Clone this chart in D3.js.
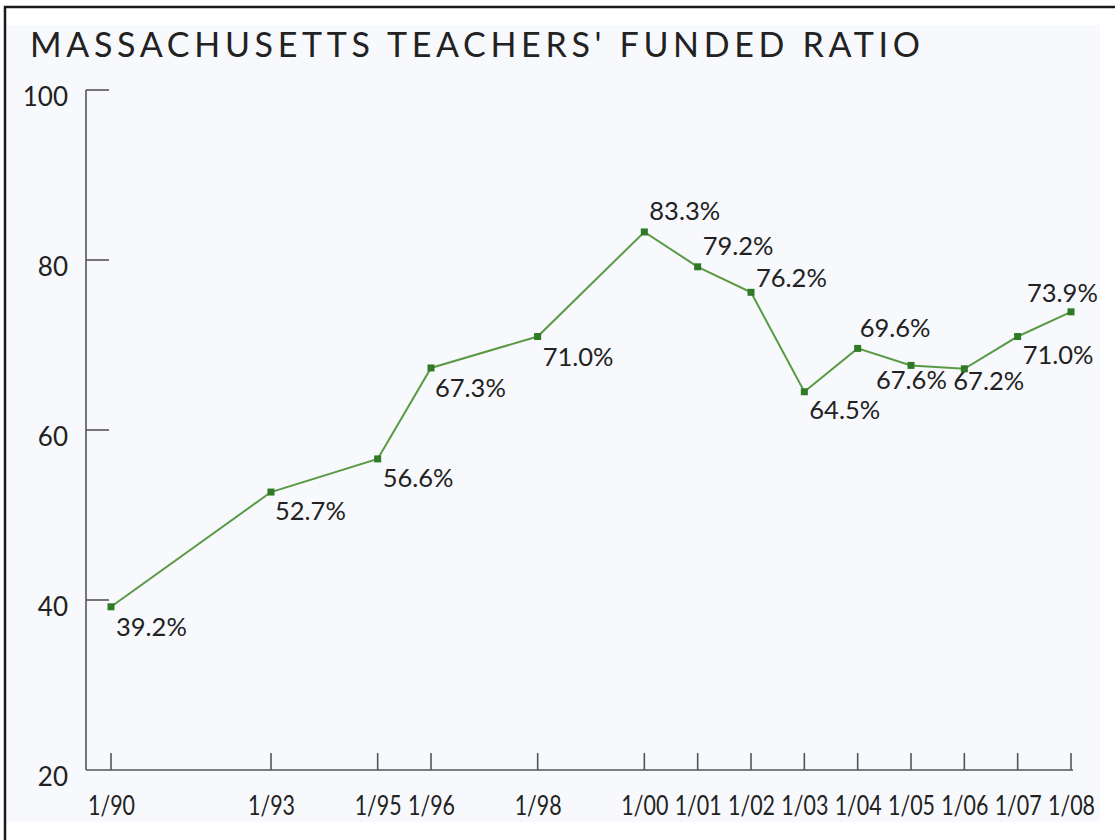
<!DOCTYPE html>
<html>
<head>
<meta charset="utf-8">
<script src="https://cdn.jsdelivr.net/npm/d3@7"></script>
<style>
  body { margin:0; background:#ffffff; }
  svg { display:block; }
  text { font-family: Lato, "Open Sans", sans-serif; fill:#222222; }
</style>
</head>
<body>
<svg></svg>
<script>
// data
var years = [1990, 1993, 1995, 1996, 1998, 2000, 2001, 2002, 2003, 2004, 2005, 2006, 2007, 2008];
var ratios = [39.2, 52.7, 56.6, 67.3, 71.0, 83.3, 79.2, 76.2, 64.5, 69.6, 67.6, 67.2, 71.0, 73.9];
var tickYears = [1990, 1993, 1995, 1996, 1998, 2000, 2001, 2002, 2003, 2004, 2005, 2006, 2007, 2008];
var tickLabels = ["1/90", "1/93", "1/95", "1/96", "1/98", "1/00", "1/01", "1/02", "1/03", "1/04", "1/05", "1/06", "1/07", "1/08"];
var yTicks = [20, 40, 60, 80, 100];
var title = "MASSACHUSETTS TEACHERS' FUNDED RATIO";

// where each value label sits relative to its point (layout only)
var labelNudge = [[5,29],[4,28],[5,28],[4,29],[5,29],[5,-12],[5,-12],[5,-5],[5,27],[2,-11],[-35,24],[-11,21],[5,27],[-44,-10]];

var drawGraph = function()
{
  var screen =
  {
    width:1115,
    height:840
  };

  var svg = d3.select("svg")
              .attr("width",screen.width)
              .attr("height",screen.height);

  // panel + frame
  svg.append("rect")
     .attr("x",6).attr("y",25)
     .attr("width",1094).attr("height",797)
     .attr("fill","#f8f9fc");

  svg.append("line")
     .attr("x1",4).attr("x2",1115)
     .attr("y1",7).attr("y2",7)
     .attr("stroke","#1a1a1a").attr("stroke-width",2.5);
  svg.append("line")
     .attr("x1",5).attr("x2",5)
     .attr("y1",6).attr("y2",840)
     .attr("stroke","#1a1a1a").attr("stroke-width",2.5);

  svg.append("text")
     .attr("x",30).attr("y",57)
     .attr("font-size",34)
     .attr("textLength",890)
     .attr("lengthAdjust","spacing")
     .text(title);

  var xScale = d3.scaleLinear()
                 .domain([1990,2008])
                 .range([111,1071]);

  var yScale = d3.scaleLinear()
                 .domain([20,100])
                 .range([770,90]);

  var axisColor = "#555555";

  // y axis
  var yAxis = svg.append("g").classed("yaxis",true);
  yAxis.append("line")
       .attr("x1",86).attr("x2",86)
       .attr("y1",yScale(100)).attr("y2",yScale(20))
       .attr("stroke",axisColor).attr("stroke-width",1.6);
  yAxis.selectAll("line.tick")
       .data(yTicks.filter(function(d){return d>20;}))
       .enter()
       .append("line")
       .classed("tick",true)
       .attr("x1",86).attr("x2",109)
       .attr("y1",function(d){return yScale(d);})
       .attr("y2",function(d){return yScale(d);})
       .attr("stroke",axisColor).attr("stroke-width",1.6);
  yAxis.selectAll("text")
       .data(yTicks)
       .enter()
       .append("text")
       .attr("x",68)
       .attr("y",function(d){return yScale(d)+16;})
       .attr("text-anchor","end")
       .attr("font-size",26)
       .text(function(d){return d;});

  // x axis
  var xAxis = svg.append("g").classed("xaxis",true);
  xAxis.append("line")
       .attr("x1",86).attr("x2",xScale(2008)+2)
       .attr("y1",770).attr("y2",770)
       .attr("stroke",axisColor).attr("stroke-width",1.6);
  xAxis.selectAll("line.tick")
       .data(tickYears)
       .enter()
       .append("line")
       .classed("tick",true)
       .attr("x1",function(d){return xScale(d);})
       .attr("x2",function(d){return xScale(d);})
       .attr("y1",770).attr("y2",753)
       .attr("stroke",axisColor).attr("stroke-width",1.6);
  xAxis.selectAll("text")
       .data(tickYears)
       .enter()
       .append("text")
       .attr("x",function(d){return xScale(d)-23;})
       .attr("y",815)
       .attr("font-size",27)
       .attr("textLength",47)
       .attr("lengthAdjust","spacingAndGlyphs")
       .text(function(d,i){return tickLabels[i];});

  // line
  var points = years.map(function(y,i){return {year:y, value:ratios[i], nudge:labelNudge[i]};});

  var line = d3.line()
               .x(function(d){return xScale(d.year);})
               .y(function(d){return yScale(d.value);});

  svg.append("path")
     .datum(points)
     .attr("d",line)
     .attr("fill","none")
     .attr("stroke","#5a9a45")
     .attr("stroke-width",2);

  svg.selectAll("rect.marker")
     .data(points)
     .enter()
     .append("rect")
     .classed("marker",true)
     .attr("x",function(d){return xScale(d.year)-3.5;})
     .attr("y",function(d){return yScale(d.value)-3.5;})
     .attr("width",7).attr("height",7)
     .attr("fill","#2f7a25");

  svg.selectAll("text.vlabel")
     .data(points)
     .enter()
     .append("text")
     .classed("vlabel",true)
     .attr("x",function(d){return xScale(d.year)+d.nudge[0];})
     .attr("y",function(d){return yScale(d.value)+d.nudge[1];})
     .attr("font-size",25.5)
     .text(function(d){return d.value.toFixed(1)+"%";});
}

drawGraph();
</script>
</body>
</html>
